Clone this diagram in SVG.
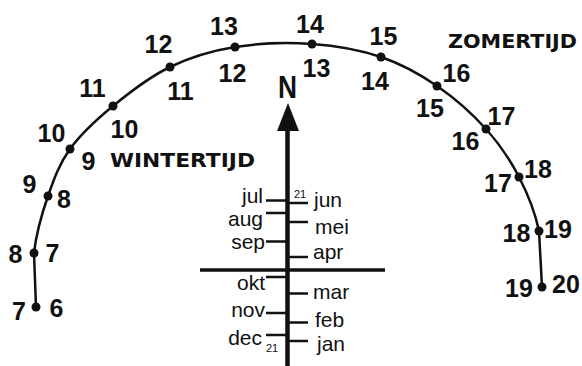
<svg xmlns="http://www.w3.org/2000/svg" width="582" height="366" viewBox="0 0 582 366">
<style>
.num{font-family:"Liberation Sans",Arial,sans-serif;font-weight:bold;font-size:25px;fill:#111;text-anchor:middle}
.mon{font-family:"Liberation Sans",Arial,sans-serif;font-size:21px;fill:#111}
.l{text-anchor:end}
.sm{font-family:"Liberation Sans",Arial,sans-serif;font-size:11px;fill:#111}
.title{font-family:"DejaVu Sans",Verdana,sans-serif;font-weight:bold;font-size:20px;fill:#111}
.tick{stroke:#111;stroke-width:2.5}
.dot{fill:#111}
</style>
<rect width="582" height="366" fill="#fff"/>
<g id="arc">
<path d="M36,307 L34,253 C36,234.5 42,213.3 48,196 C54,178.7 59.2,164 70,149 C80.8,134 96.3,119.7 113,106 C129.7,92.3 149.7,76.8 170,67 C190.3,57.2 211.3,50.8 235,47 C258.7,43.2 287.7,42.3 312,44 C336.3,45.7 360.2,50 381,57 C401.8,64 419.5,74 437,86 C454.5,98 472.3,113.8 486,129 C499.7,144.2 510.2,160 519,177 C527.8,194 535.2,212.7 539,231 L542,287" fill="none" stroke="#111" stroke-width="2.5"/>
</g>
<g id="dots">
<circle class="dot" cx="36" cy="307" r="4.5"/>
<circle class="dot" cx="34" cy="253" r="4.5"/>
<circle class="dot" cx="48" cy="196" r="4.5"/>
<circle class="dot" cx="70" cy="149" r="4.5"/>
<circle class="dot" cx="113" cy="106" r="4.5"/>
<circle class="dot" cx="170" cy="67" r="4.5"/>
<circle class="dot" cx="235" cy="47" r="4.5"/>
<circle class="dot" cx="312" cy="44" r="4.5"/>
<circle class="dot" cx="381" cy="57" r="4.5"/>
<circle class="dot" cx="437" cy="86" r="4.5"/>
<circle class="dot" cx="486" cy="129" r="4.5"/>
<circle class="dot" cx="519" cy="177" r="4.5"/>
<circle class="dot" cx="539" cy="231" r="4.5"/>
<circle class="dot" cx="542" cy="287" r="4.5"/>
</g>
<g id="zomertijd-hours">
<text class="num" x="19" y="320">7</text>
<text class="num" x="15.5" y="263">8</text>
<text class="num" x="29.5" y="193">9</text>
<text class="num" x="51.5" y="142">10</text>
<text class="num" x="92.5" y="97">11</text>
<text class="num" x="158.5" y="53">12</text>
<text class="num" x="224" y="35">13</text>
<text class="num" x="310" y="33">14</text>
<text class="num" x="383.5" y="45">15</text>
<text class="num" x="456.5" y="82">16</text>
<text class="num" x="501.5" y="125">17</text>
<text class="num" x="538" y="178">18</text>
<text class="num" x="558" y="238">19</text>
<text class="num" x="566" y="293">20</text>
</g>
<g id="wintertijd-hours">
<text class="num" x="56.5" y="317">6</text>
<text class="num" x="52.5" y="262">7</text>
<text class="num" x="64" y="208">8</text>
<text class="num" x="88.5" y="170">9</text>
<text class="num" x="124.5" y="138">10</text>
<text class="num" x="180.5" y="100">11</text>
<text class="num" x="232.5" y="82">12</text>
<text class="num" x="316.5" y="77">13</text>
<text class="num" x="375" y="90">14</text>
<text class="num" x="430" y="117">15</text>
<text class="num" x="465.5" y="150">16</text>
<text class="num" x="498" y="192">17</text>
<text class="num" x="516.5" y="242">18</text>
<text class="num" x="519" y="297">19</text>
</g>
<g id="titles">
<text class="title" x="110" y="167" textLength="145" lengthAdjust="spacingAndGlyphs">WINTERTIJD</text>
<text class="title" x="448" y="48" textLength="129" lengthAdjust="spacingAndGlyphs">ZOMERTIJD</text>
</g>
<g id="north">
<text x="278" y="98" font-family="Liberation Sans, Arial, sans-serif" font-weight="bold" font-size="31" fill="#111" textLength="19" lengthAdjust="spacingAndGlyphs">N</text>
<polygon points="288,103 277,131 299,131" fill="#111"/>
<line x1="287.5" y1="128" x2="287.5" y2="366" stroke="#111" stroke-width="4.5"/>
</g>
<g id="connectors">
<line x1="200" y1="270" x2="385" y2="270" stroke="#111" stroke-width="3.5"/>
<line class="tick" x1="266" y1="200.5" x2="287" y2="200.5"/>
<line class="tick" x1="266" y1="213" x2="287" y2="213"/>
<line class="tick" x1="266" y1="241.5" x2="287" y2="241.5"/>
<line class="tick" x1="266" y1="277" x2="287" y2="277"/>
<line class="tick" x1="266" y1="313" x2="287" y2="313"/>
<line class="tick" x1="266" y1="335" x2="287" y2="335"/>
<line class="tick" x1="287" y1="203" x2="308" y2="203"/>
<line class="tick" x1="287" y1="222" x2="308" y2="222"/>
<line class="tick" x1="287" y1="257" x2="308" y2="257"/>
<line class="tick" x1="287" y1="293.5" x2="308" y2="293.5"/>
<line class="tick" x1="287" y1="322.5" x2="308" y2="322.5"/>
<line class="tick" x1="287" y1="341" x2="308" y2="341"/>
</g>
<g id="months">
<text class="mon l" x="263" y="203">jul</text>
<text class="mon l" x="263" y="225.5">aug</text>
<text class="mon l" x="265" y="249">sep</text>
<text class="mon l" x="265" y="290">okt</text>
<text class="mon l" x="265" y="316.5">nov</text>
<text class="mon l" x="262" y="345">dec</text>
<text class="mon" x="314" y="207">jun</text>
<text class="mon" x="315" y="234">mei</text>
<text class="mon" x="313" y="259">apr</text>
<text class="mon" x="313" y="299">mar</text>
<text class="mon" x="315" y="327">feb</text>
<text class="mon" x="317" y="351">jan</text>
<text class="sm" x="294" y="198">21</text>
<text class="sm" x="266" y="352">21</text>
</g>
</svg>
